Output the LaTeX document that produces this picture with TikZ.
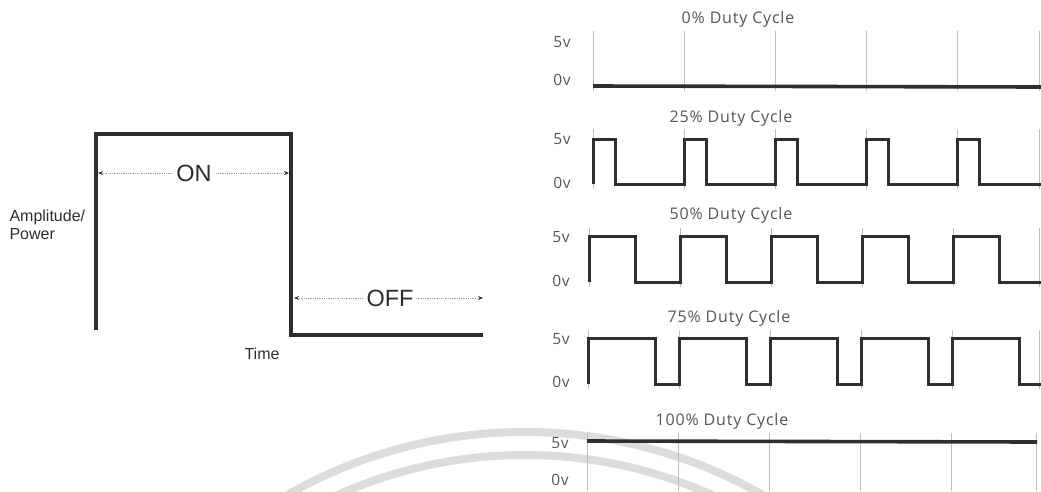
\documentclass[tikz,border=0pt]{standalone}
\usepackage{fontspec}
\setmainfont{Liberation Sans}
\newfontfamily\chartfont[LetterSpace=5]{Open Sans}
\usetikzlibrary{arrows.meta}
\definecolor{ink}{HTML}{2E2E2E}
\definecolor{gridc}{HTML}{BDBDBD}
\definecolor{lab}{HTML}{555555}
\definecolor{wm}{HTML}{DCDCDC}
\begin{document}
\begin{tikzpicture}[x=1pt,y=-1pt,
  wave/.style={draw=ink,line width=3pt,line join=miter},
  flatwave/.style={draw=ink,line width=3.6pt},
  bigwave/.style={draw=ink,line width=4pt,line join=miter},
  gridline/.style={draw=gridc,line width=0.7pt},
  dimline/.style={draw=gray!80,densely dotted,line width=0.8pt,
    {Stealth[length=5pt,width=4pt,color=ink]}-{Stealth[length=5pt,width=4pt,color=ink]}},
  dimlabel/.style={fill=white,inner sep=3pt,font=\fontsize{23.5}{26}\selectfont,text=ink},
  axlabel/.style={font=\fontsize{16}{18}\selectfont,text=ink},
  charttitle/.style={font=\chartfont\fontsize{16}{18}\selectfont,text=lab},
  vlab/.style={font=\chartfont\fontsize{15.5}{17}\selectfont,text=lab}
]
\useasboundingbox (0,0) rectangle (1041,491);
% watermark arcs
\begin{scope}
  \clip (0,0) rectangle (1041,491);
  \draw[wm,line width=8pt] (525,912) circle[radius=480pt];
  \draw[wm,line width=8pt] (525,912) circle[radius=457pt];
\end{scope}

% ---------------- left: single pulse ----------------
\draw[bigwave] (96,330) -- (96,134) -- (291,134) -- (291,335) -- (483,335);
\coordinate (onL) at (98,173);
\coordinate (onR) at (289,173);
\coordinate (offL) at (294,298);
\coordinate (offR) at (483,298);
\draw[dimline] (onL) -- (onR);
\draw[dimline] (offL) -- (offR);
\node[dimlabel] (on) at (194,173) {ON};
\node[dimlabel] (off) at (390,298) {OFF};
\node[axlabel,anchor=west,align=left] (amp) at (6,225) {Amplitude/\\Power};
\node[axlabel] (time) at (262,354) {Time};

% ---------------- 0% ----------------
\node[charttitle] (t0) at (738,19) {0\% Duty Cycle};
\node[vlab] (h0) at (562,42) {5v};
\node[vlab] (l0) at (562,80) {0v};
\foreach \i in {0,...,4} \draw[gridline] ({593+91*\i},31) -- ({593+91*\i},91);
\draw[gridline] (1039,31) -- (1039,91);
\draw[flatwave] (593,86) -- (1041,87);

% ---------------- 25% ----------------
\node[charttitle] (t25) at (731,118) {25\% Duty Cycle};
\node[vlab] (h25) at (562,139) {5v};
\node[vlab] (l25) at (562,183) {0v};
\foreach \i in {0,...,4} \draw[gridline] ({593+91*\i},129) -- ({593+91*\i},189);
\draw[gridline] (1039,129) -- (1039,189);
\draw[wave] (593,184) \foreach \i in {0,...,4} {
  -- ({593+91*\i},184) -- ({593+91*\i},139) -- ({615+91*\i},139) -- ({615+91*\i},184) } -- (1041,184);

% ---------------- 50% ----------------
\node[charttitle] (t50) at (731,215) {50\% Duty Cycle};
\node[vlab] (h50) at (561,237) {5v};
\node[vlab] (l50) at (561,281) {0v};
\foreach \i in {0,...,4} \draw[gridline] ({589+91*\i},228) -- ({589+91*\i},287);
\draw[gridline] (1039,228) -- (1039,287);
\draw[wave] (589,282) \foreach \i in {0,...,4} {
  -- ({589+91*\i},282) -- ({589+91*\i},236) -- ({635+91*\i},236) -- ({635+91*\i},282) } -- (1041,282);

% ---------------- 75% ----------------
\node[charttitle] (t75) at (729,318) {75\% Duty Cycle};
\node[vlab] (h75) at (561,339) {5v};
\node[vlab] (l75) at (561,382) {0v};
\foreach \i in {0,...,4} \draw[gridline] ({588+91*\i},330) -- ({588+91*\i},389);
\draw[gridline] (1039,330) -- (1039,389);
\draw[wave] (588,384) \foreach \i in {0,...,4} {
  -- ({588+91*\i},384) -- ({588+91*\i},338) -- ({655+91*\i},338) -- ({655+91*\i},384) } -- (1041,384);

% ---------------- 100% ----------------
\node[charttitle] (t100) at (722,421) {100\% Duty Cycle};
\node[vlab] (h100) at (560,443) {5v};
\node[vlab] (l100) at (560,480) {0v};
\foreach \i in {0,...,4} \draw[gridline] ({587+91*\i},433) -- ({587+91*\i},491);
\draw[gridline] (1036,433) -- (1036,491);
\draw[flatwave] (587,441) -- (1037,442);
\end{tikzpicture}
\end{document}
